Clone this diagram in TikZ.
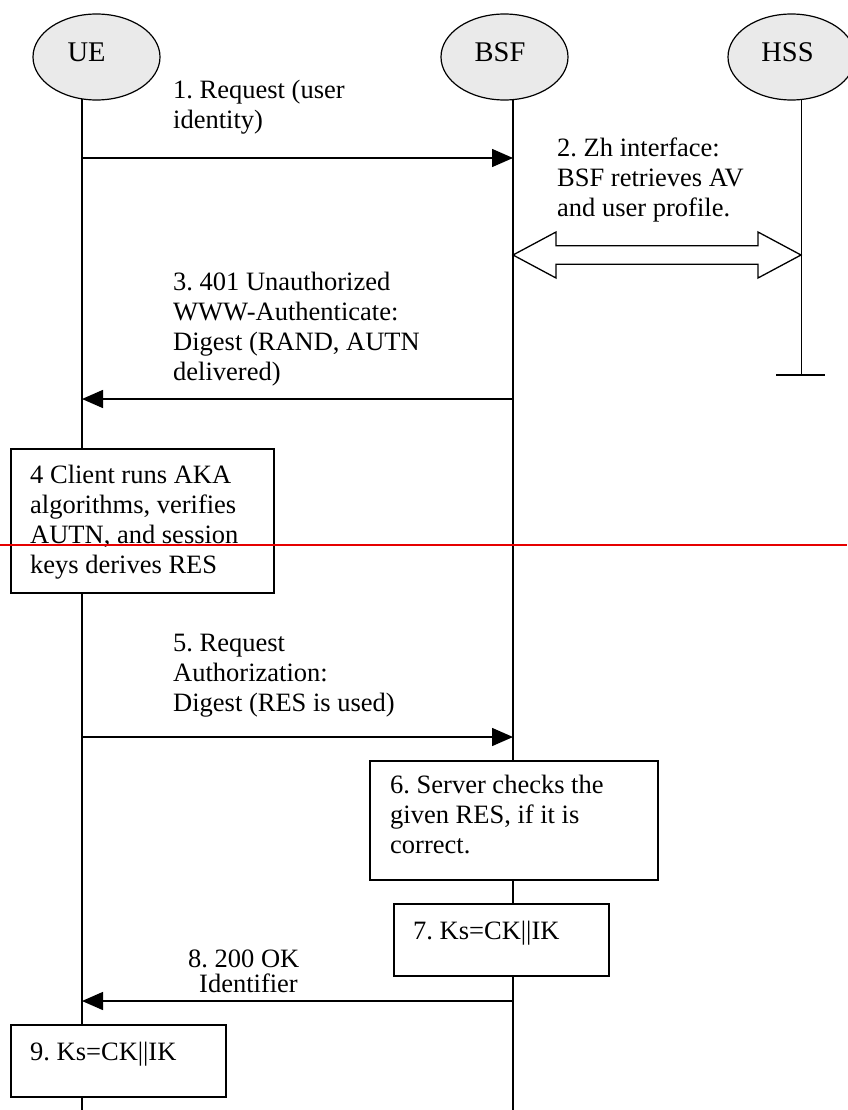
\documentclass[tikz,border=0pt]{standalone}
\usepackage{fontspec}
\setmainfont{Liberation Serif}
\usetikzlibrary{arrows.meta,calc,shapes.geometric}
\definecolor{actorfill}{HTML}{EAEAEA}
\definecolor{cutred}{HTML}{E60000}
\frenchspacing
\begin{document}
\begin{tikzpicture}[x=1pt,y=-1pt,
  actor/.style={ellipse, draw, fill=actorfill, line width=1.2pt, minimum width=127pt, minimum height=86pt, inner sep=0pt},
  actorname/.style={font=\fontsize{28.5}{30}\selectfont, inner sep=0pt},
  lifeline/.style={line width=1.5pt},
  msg/.style={line width=1.5pt, -{Triangle[length=21pt,width=18pt]}},
  stepbox/.style={draw, fill=white, line width=1.5pt, anchor=north west, inner sep=0pt},
  txt/.style={font=\fontsize{26.5}{30}\selectfont\frenchspacing, align=left, anchor=base west, inner sep=0pt}
]
\useasboundingbox (0,0) rectangle (847,1110);

% lifeline ends
\coordinate (ueEnd) at (82,1110);
\coordinate (bsfEnd) at (513,1110);
\coordinate (hssEnd) at (801,375);
\draw[lifeline] (ueEnd) -- (82,57);
\draw[lifeline] (bsfEnd) -- (513,57);
\draw[line width=1pt] (hssEnd) -- (801,57);
\coordinate (hssBarL) at (776,375);
\coordinate (hssBarR) at (825,375);
\draw[line width=1.5pt] (hssBarL) -- (hssBarR);

% actors
\node[actor, label={[actorname, xshift=-10pt, yshift=5pt]center:UE}] (UE) at (96.5,57) {};
\node[actor, label={[actorname, xshift=-4.5pt, yshift=5pt]center:BSF}] (BSF) at (504.5,57) {};
\node[actor, label={[actorname, xshift=-4pt, yshift=5pt]center:HSS}] (HSS) at (791.5,57) {};

% 1 (anchor = baseline of last line)
\coordinate (m1s) at (82,158);
\coordinate (m1e) at (513,158);
\draw[msg] (m1s) -- (m1e);
\node[txt] (t1) at (173,129) {1. Request (user\\identity)};

% 2 Zh interface
\node[txt] (t2) at (557,216) {2. Zh interface:\\BSF retrieves AV\\and user profile.};
\coordinate (zhL) at (513,255);
\coordinate (zhR) at (801,255);
\draw[line width=1.3pt, fill=white, line join=miter]
  (zhL) -- ($(zhL)+(43,-23)$) -- ($(zhL)+(43,-9.3)$) -- ($(zhR)+(-43,-9.3)$)
  -- ($(zhR)+(-43,-23)$) -- (zhR) -- ($(zhR)+(-43,23)$) -- ($(zhR)+(-43,9.3)$)
  -- ($(zhL)+(43,9.3)$) -- ($(zhL)+(43,23)$) -- cycle;

% 3
\node[txt] (t3) at (173,380) {3. 401 Unauthorized\\WWW-Authenticate:\\Digest (RAND, AUTN\\delivered)};
\coordinate (m3s) at (513,399);
\coordinate (m3e) at (82,399);
\draw[msg] (m3s) -- (m3e);

% 4
\node[stepbox, minimum width=263pt, minimum height=144pt] (b4) at (10,448) {};
\node[txt] (t4) at (30,573) {4 Client runs AKA\\algorithms, verifies\\AUTN, and session\\keys derives RES};

% 5
\node[txt] (t5) at (173,711) {5. Request\\Authorization:\\Digest (RES is used)};
\coordinate (m5s) at (82,737);
\coordinate (m5e) at (513,737);
\draw[msg] (m5s) -- (m5e);

% 6
\node[stepbox, minimum width=288pt, minimum height=119pt] (b6) at (369,760) {};
\node[txt] (t6) at (390,853) {6. Server checks the\\given RES, if it is\\correct.};

% 7
\node[stepbox, minimum width=215pt, minimum height=72pt] (b7) at (393,903) {};
\node[txt] (t7) at (413,939) {7. Ks=CK||IK};

% 8
\node[txt] (t8) at (188,992) {8. 200 OK\\[-5pt]\hspace*{11pt}Identifier};
\coordinate (m8s) at (513,1001);
\coordinate (m8e) at (82,1001);
\draw[msg] (m8s) -- (m8e);

% 9
\node[stepbox, minimum width=215pt, minimum height=72pt] (b9) at (10,1024) {};
\node[txt] (t9) at (30,1060) {9. Ks=CK||IK};

% red line
\coordinate (redL) at (0,545);
\coordinate (redR) at (847,545);
\draw[cutred, line width=2pt] (redL) -- (redR);
\end{tikzpicture}
\end{document}
